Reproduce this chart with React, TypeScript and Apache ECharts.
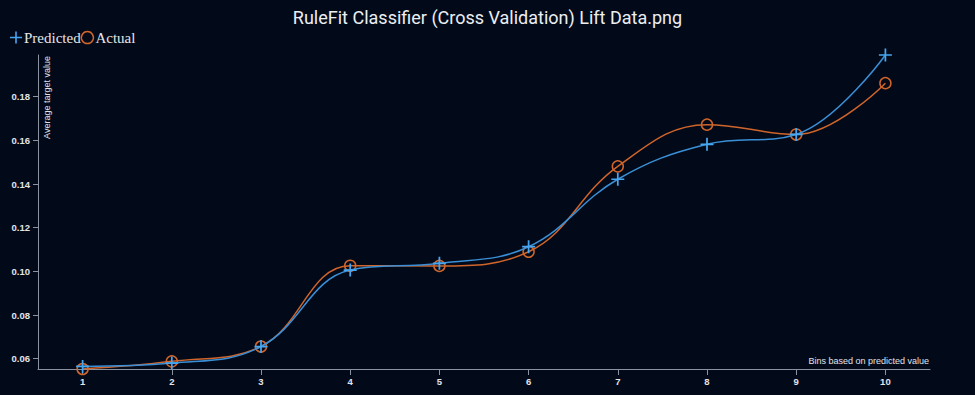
import React, { useEffect, useRef } from "react";
import * as echarts from "echarts";

const bins = [1, 2, 3, 4, 5, 6, 7, 8, 9, 10];
const predicted = [0.0565, 0.058, 0.0656, 0.1006, 0.1037, 0.1113, 0.1422, 0.1582, 0.1627, 0.1991];
const actual = [0.0553, 0.0588, 0.0656, 0.1026, 0.1025, 0.109, 0.1481, 0.1672, 0.1627, 0.1862];
const titleText = "RuleFit Classifier (Cross Validation) Lift Data.png";
const xName = "Bins based on predicted value";
const yName = "Average target value";

const BG = "#020a1a";
const BLUE_LINE = "#3a8fd6";
const BLUE_MARK = "#47a6f0";
const ORANGE = "#d0652b";
const AXIS = "#8c93a0";
const LABEL = "#e2e4e8";
const PLUS = "path://M5.2,0h1.6v5.2h5.2v1.6h-5.2v5.2h-1.6v-5.2h-5.2v-1.6h5.2z";

export default function App() {
  const ref = useRef<HTMLDivElement>(null);
  useEffect(() => {
    const chart = echarts.init(ref.current!, null, { renderer: "svg" });
    const yMin = Math.min(...predicted, ...actual);
    const yMax = Math.max(...predicted, ...actual);
    chart.setOption({
      animation: false,
      backgroundColor: BG,
      title: {
        text: titleText,
        left: "center",
        top: 3,
        textStyle: { color: "#eceef2", fontFamily: "Roboto", fontSize: 18, fontWeight: "normal" },
      },
      legend: {
        left: 5,
        top: 25,
        itemWidth: 12,
        itemHeight: 12,
        itemGap: 0,
        textStyle: { color: "#e6e6e6", fontFamily: "Liberation Serif", fontSize: 15, padding: [0, 0, 0, -3] },
        data: [
          { name: "Predicted", icon: PLUS, itemStyle: { color: BLUE_MARK } },
          {
            name: "Actual",
            icon: "path://M6,0.75a5.25,5.25 0 1,0 0.001,0z",
            itemStyle: { color: "rgba(0,0,0,0)", borderColor: ORANGE, borderWidth: 1.5 },
          },
        ],
      },
      grid: { left: 38, right: 45, top: 55, bottom: 26 },
      xAxis: {
        type: "value",
        min: 0.5,
        max: 10.5,
        splitNumber: 10,
        name: xName,
        nameLocation: "end",
        nameGap: -1,
        nameTextStyle: {
          color: LABEL,
          fontFamily: "Liberation Sans",
          fontSize: 9,
          align: "right",
          verticalAlign: "bottom",
          padding: [0, 0, 4, 0],
        },
        axisLine: { lineStyle: { color: AXIS, width: 1 } },
        axisTick: { show: true, length: 6, lineStyle: { color: AXIS } },
        splitLine: { show: false },
        axisLabel: {
          showMinLabel: false,
          showMaxLabel: false,
          color: LABEL,
          fontFamily: "Liberation Sans",
          fontWeight: "bold",
          fontSize: 9.5,
          margin: 7,
        },
      },
      yAxis: {
        type: "value",
        min: yMin,
        max: yMax,
        splitNumber: 7,
        axisLine: { show: true, lineStyle: { color: AXIS, width: 1 } },
        axisTick: { show: true, length: 5, lineStyle: { color: AXIS } },
        splitLine: { show: false },
        axisLabel: {
          showMinLabel: false,
          showMaxLabel: false,
          color: LABEL,
          fontFamily: "Liberation Sans",
          fontWeight: "bold",
          fontSize: 9.5,
          margin: 8,
          formatter: (v: number) => v.toFixed(2),
        },
      },
      graphic: [
        {
          type: "text",
          x: 42,
          y: 56,
          rotation: Math.PI / 2,
          style: {
            text: yName,
            fill: LABEL,
            font: "9px 'Liberation Sans'",
            align: "right",
            verticalAlign: "top",
          },
        },
      ],
      series: [
        {
          name: "Actual",
          type: "line",
          smooth: 0.4,
          data: bins.map((b, i) => [b, actual[i]]),
          symbol: "circle",
          symbolSize: 11,
          lineStyle: { color: ORANGE, width: 1.5 },
          itemStyle: { color: "rgba(0,0,0,0)", borderColor: ORANGE, borderWidth: 1.5 },
          z: 2,
        },
        {
          name: "Predicted",
          type: "line",
          smooth: 0.4,
          data: bins.map((b, i) => [b, predicted[i]]),
          symbol: PLUS,
          symbolSize: 13,
          lineStyle: { color: BLUE_LINE, width: 1.5 },
          itemStyle: { color: BLUE_MARK },
          z: 3,
        },
      ],
    });
    return () => chart.dispose();
  }, []);
  return <div ref={ref} style={{ width: 975, height: 395, position: "fixed", left: 0, top: 0 }} />;
}
